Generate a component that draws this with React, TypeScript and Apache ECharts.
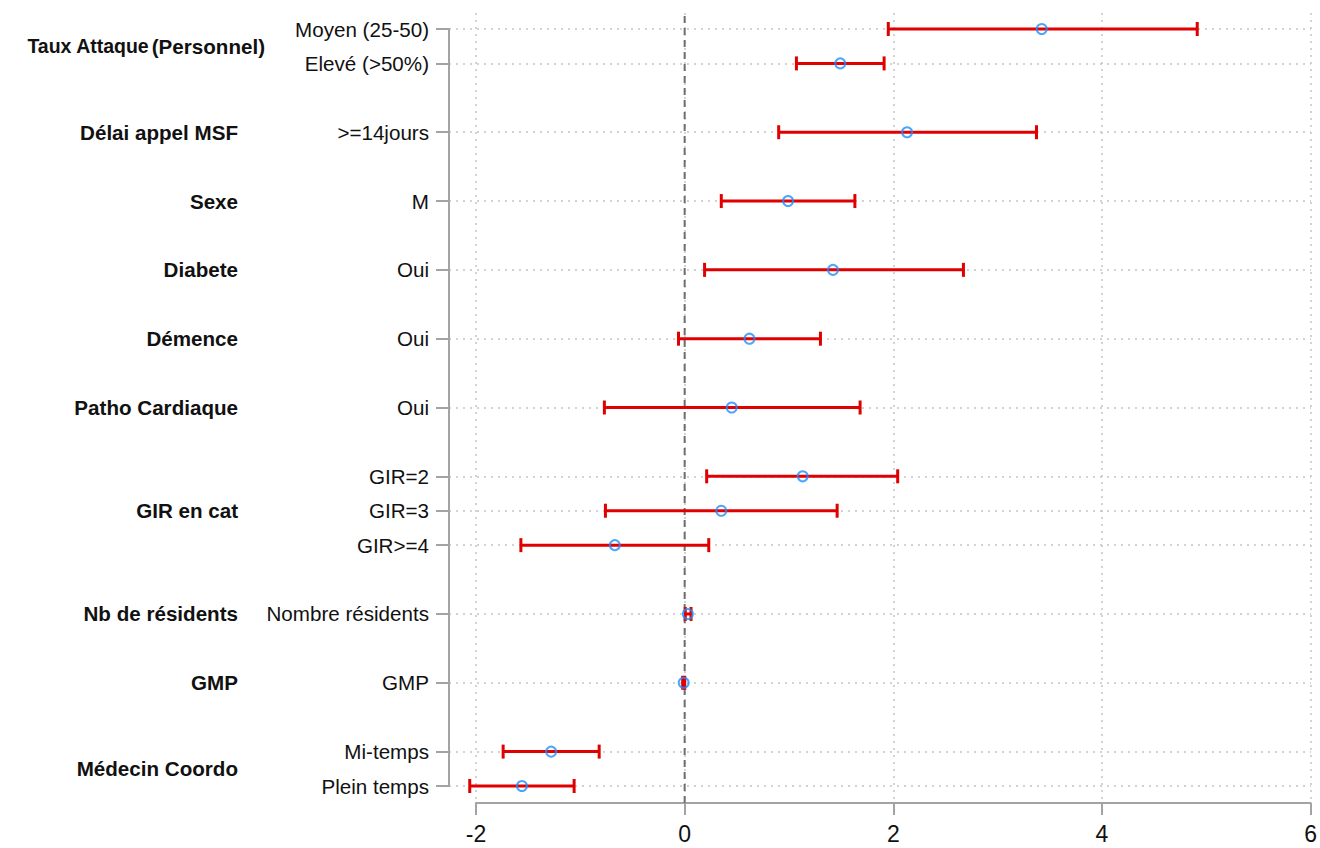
import React, { useEffect, useRef } from "react";
import * as echarts from "echarts";

// ---- data ----
const groupLabels = [
  "Taux Attaque|(Personnel)",
  "Délai appel MSF",
  "Sexe",
  "Diabete",
  "Démence",
  "Patho Cardiaque",
  "GIR en cat",
  "Nb de résidents",
  "GMP",
  "Médecin Coordo",
];
const groupRows = [0.5, 3, 5, 7, 9, 11, 14, 17, 19, 21.5];

const itemLabels = [
  "Moyen (25-50)",
  "Elevé (>50%)",
  ">=14jours",
  "M",
  "Oui",
  "Oui",
  "Oui",
  "GIR=2",
  "GIR=3",
  "GIR>=4",
  "Nombre résidents",
  "GMP",
  "Mi-temps",
  "Plein temps",
];
const itemRows = [0, 1, 3, 5, 7, 9, 11, 13, 14, 15, 17, 19, 21, 22];
const estimates = [3.42, 1.49, 2.13, 0.99, 1.42, 0.62, 0.45, 1.13, 0.35, -0.67, 0.03, -0.01, -1.28, -1.56];
const lowerCI = [1.95, 1.07, 0.9, 0.35, 0.19, -0.06, -0.77, 0.21, -0.76, -1.57, 0.005, -0.02, -1.74, -2.06];
const upperCI = [4.91, 1.91, 3.37, 1.63, 2.67, 1.3, 1.68, 2.04, 1.46, 0.23, 0.06, 0.0, -0.82, -1.06];

const xMin = -2;
const xMax = 6;
const xInterval = 2;

// ---- style / layout ----
const FONT = "'Liberation Sans', Arial, sans-serif";
const RED = "#e00000";
const BLUE = "#1e8fff";
const AXIS = "#a3a3a3";
const GRIDC = "#c4c4c4";

const AXIS_LEFT = 449;
const PLOT_LEFT = 476;
const PLOT_RIGHT = 9;
const pxPerUnit = (1320 - PLOT_LEFT - PLOT_RIGHT) / (xMax - xMin);
const xMinA = xMin - (PLOT_LEFT - AXIS_LEFT) / pxPerUnit;

export default function App() {
  const ref = useRef<HTMLDivElement>(null);

  useEffect(() => {
    if (!ref.current) return;
    const chart = echarts.init(ref.current, null, { renderer: "svg" });

    const findIdx = (arr: number[], v: number) => arr.findIndex((r) => Math.abs(r - v) < 1e-6);

    const option: any = {
      animation: false,
      textStyle: { fontFamily: FONT },
      grid: [
        { left: AXIS_LEFT, right: PLOT_RIGHT, top: 29, bottom: 848 - 786 },
        { left: PLOT_LEFT, right: PLOT_RIGHT, top: 13, bottom: 848 - 803 },
      ],
      xAxis: [
        { type: "value", gridIndex: 0, min: xMinA, max: xMax, show: false },
        {
          type: "value",
          gridIndex: 1,
          min: xMin,
          max: xMax,
          interval: xInterval,
          axisLine: { show: true, onZero: false, lineStyle: { color: AXIS, width: 2 } },
          axisTick: { show: true, length: 12, lineStyle: { color: AXIS, width: 2 } },
          axisLabel: { fontSize: 23, color: "#111", margin: 19, fontFamily: FONT },
          splitLine: { show: true, lineStyle: { color: GRIDC, width: 1.5, type: [2, 5] } },
        },
      ],
      yAxis: [
        {
          type: "value",
          gridIndex: 0,
          min: 0,
          max: 22,
          inverse: true,
          axisLine: { show: true, onZero: false, lineStyle: { color: AXIS, width: 2 } },
          axisTick: { show: true, length: 13, lineStyle: { color: AXIS, width: 2 }, customValues: itemRows },
          axisLabel: {
            customValues: itemRows,
            fontSize: 20.6,
            color: "#111",
            margin: 20,
            fontFamily: FONT,
            formatter: (v: number) => {
              const i = findIdx(itemRows, v);
              return i >= 0 ? itemLabels[i] : "";
            },
          },
          splitLine: { show: true, lineStyle: { color: GRIDC, width: 1.5, type: [2, 5] } },
        },
        {
          type: "value",
          gridIndex: 0,
          min: 0,
          max: 22,
          inverse: true,
          position: "left",
          offset: 176,
          axisLine: { show: false, onZero: false },
          axisTick: { show: false },
          splitLine: { show: false },
          axisLabel: {
            customValues: groupRows,
            margin: 8,
            fontFamily: FONT,
            formatter: (v: number) => {
              const i = findIdx(groupRows, v);
              if (i < 0) return "";
              const parts = groupLabels[i].split("|");
              if (parts.length > 1) return "{w|" + parts[0] + "}{q|" + parts[1] + "}";
              return "{p|" + parts[0] + "}";
            },
            rich: {
              w: { fontSize: 19.5, fontWeight: "bold", color: "#111", fontFamily: FONT, padding: [0, 3, 0, 0] },
              q: { fontSize: 20.6, fontWeight: "bold", color: "#111", fontFamily: FONT },
              p: { fontSize: 20.6, fontWeight: "bold", color: "#111", fontFamily: FONT, padding: [0, 27, 0, 0] },
            },
          },
        },
        { type: "value", gridIndex: 1, min: 0, max: 1, show: false },
      ],
      series: [
        {
          type: "line",
          xAxisIndex: 1,
          yAxisIndex: 2,
          data: [
            [0, 0],
            [0, 1],
          ],
          symbol: "none",
          silent: true,
          z: 1,
          lineStyle: { color: "#6e6e6e", width: 2, type: [7, 5] },
        },
        {
          type: "custom",
          xAxisIndex: 0,
          yAxisIndex: 0,
          z: 5,
          data: itemRows.map((r, i) => [r, lowerCI[i], upperCI[i]]),
          encode: { x: [1, 2], y: 0 },
          renderItem: (params: any, api: any) => {
            const y = api.value(0);
            const lo = api.coord([api.value(1), y]);
            const hi = api.coord([api.value(2), y]);
            const h = 7;
            const style = { stroke: RED, lineWidth: 3, fill: "none" };
            return {
              type: "group",
              children: [
                { type: "line", shape: { x1: lo[0], y1: lo[1], x2: hi[0], y2: hi[1] }, style },
                { type: "line", shape: { x1: lo[0], y1: lo[1] - h, x2: lo[0], y2: lo[1] + h }, style },
                { type: "line", shape: { x1: hi[0], y1: hi[1] - h, x2: hi[0], y2: hi[1] + h }, style },
              ],
            };
          },
        },
        {
          type: "scatter",
          xAxisIndex: 0,
          yAxisIndex: 0,
          z: 6,
          symbol: "circle",
          symbolSize: 10,
          data: itemRows.map((r, i) => [estimates[i], r]),
          itemStyle: { color: "rgba(255,255,255,0)", borderColor: BLUE, borderWidth: 2 },
        },
      ],
    };

    chart.setOption(option);
    return () => chart.dispose();
  }, []);

  return <div ref={ref} style={{ position: "fixed", left: 0, top: 0, width: 1320, height: 848, background: "#fff" }} />;
}
